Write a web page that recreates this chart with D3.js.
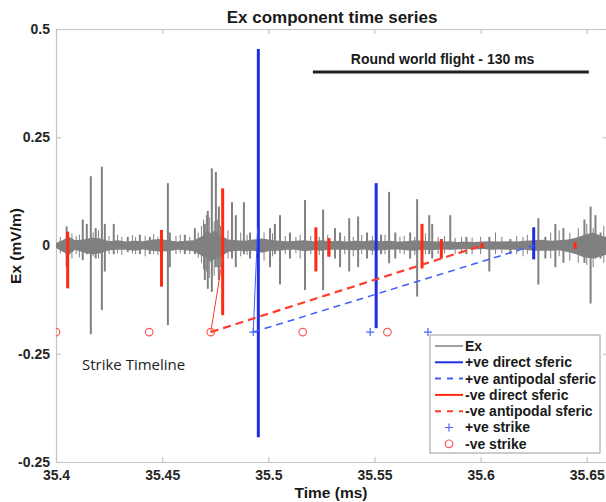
<!DOCTYPE html>
<html lang="en">
<head>
  <meta charset="UTF-8">
  <title>Ex component time series</title>
  <script src="https://d3js.org/d3.v7.min.js"></script>
  <style>
    body { margin: 0; background: #fff; }
    text { font-family: 'Liberation Sans', Arial, sans-serif; }
    .axis text { font-size: 14px; font-weight: bold; fill: #262626; }
    .axis path, .axis line { stroke: #c4c4c4; stroke-width: 1.2; }
  </style>
</head>
<body>
  <svg width="606" height="502"></svg>

  <script>
    // Ex trace: noise envelope [time, upper, lower]
    const exBand = [
      [35.400, 0.006, -0.006], [35.403, 0.012, -0.014], [35.406, 0.020, -0.022], [35.409, 0.012, -0.010],
      [35.413, 0.014, -0.016], [35.417, 0.018, -0.020], [35.421, 0.016, -0.018], [35.425, 0.010, -0.011],
      [35.429, 0.012, -0.010], [35.433, 0.009, -0.010], [35.437, 0.011, -0.012], [35.441, 0.010, -0.009],
      [35.445, 0.013, -0.012], [35.449, 0.015, -0.014], [35.453, 0.012, -0.013], [35.457, 0.009, -0.010],
      [35.461, 0.011, -0.011], [35.465, 0.012, -0.013], [35.469, 0.022, -0.025], [35.471, 0.035, -0.030],
      [35.473, 0.028, -0.038], [35.475, 0.036, -0.030], [35.477, 0.025, -0.028], [35.481, 0.014, -0.015],
      [35.485, 0.012, -0.012], [35.489, 0.011, -0.013], [35.493, 0.014, -0.012], [35.497, 0.016, -0.017],
      [35.501, 0.013, -0.012], [35.505, 0.011, -0.012], [35.509, 0.010, -0.010], [35.513, 0.011, -0.010],
      [35.517, 0.012, -0.013], [35.521, 0.010, -0.011], [35.525, 0.012, -0.012], [35.529, 0.010, -0.010],
      [35.533, 0.011, -0.010], [35.537, 0.009, -0.010], [35.541, 0.011, -0.011], [35.545, 0.010, -0.009],
      [35.549, 0.012, -0.012], [35.553, 0.010, -0.011], [35.557, 0.011, -0.010], [35.561, 0.009, -0.009],
      [35.565, 0.010, -0.011], [35.569, 0.012, -0.012], [35.573, 0.011, -0.010], [35.577, 0.010, -0.011],
      [35.581, 0.009, -0.009], [35.585, 0.010, -0.010], [35.589, 0.008, -0.009], [35.593, 0.009, -0.008],
      [35.597, 0.008, -0.009], [35.601, 0.009, -0.008], [35.605, 0.010, -0.010], [35.609, 0.009, -0.009],
      [35.613, 0.010, -0.010], [35.617, 0.009, -0.010], [35.621, 0.011, -0.010], [35.625, 0.012, -0.012],
      [35.629, 0.013, -0.012], [35.633, 0.011, -0.012], [35.637, 0.012, -0.011], [35.641, 0.014, -0.015],
      [35.645, 0.018, -0.020], [35.649, 0.025, -0.028], [35.653, 0.030, -0.030], [35.657, 0.022, -0.025],
      [35.661, 0.018, -0.018]
    ];
    // Ex spikes [time, top, bottom]
    const exSpikes = [
      [35.4050, 0.044, -0.050], [35.4126, 0.060, -0.034], [35.4145, 0.050, -0.020],
      [35.4164, 0.160, -0.205], [35.4187, 0.040, -0.030], [35.4216, 0.182, -0.149],
      [35.4230, 0.050, -0.060], [35.4272, 0.050, -0.020], [35.4338, 0.020, -0.015],
      [35.4395, 0.025, -0.020], [35.4442, 0.020, -0.020], [35.4527, 0.144, -0.184],
      [35.4536, 0.030, -0.050], [35.4607, 0.025, -0.020], [35.4654, 0.040, -0.020],
      [35.4701, 0.050, -0.080], [35.4715, 0.080, -0.100], [35.4734, 0.178, -0.107],
      [35.4753, 0.170, -0.050], [35.4767, 0.090, -0.080], [35.4829, 0.100, -0.030],
      [35.4847, 0.070, -0.050], [35.4885, 0.100, -0.020], [35.4914, 0.030, -0.030],
      [35.5008, 0.040, -0.050], [35.5031, 0.050, -0.020], [35.5055, 0.070, -0.090],
      [35.5102, 0.030, -0.030], [35.5173, 0.105, -0.103], [35.5258, 0.083, -0.103],
      [35.5314, 0.040, -0.030], [35.5338, 0.030, -0.050], [35.5381, 0.063, -0.060],
      [35.5423, 0.067, -0.050], [35.5465, 0.030, -0.030], [35.5531, 0.025, -0.020],
      [35.5569, 0.124, -0.041], [35.5598, 0.030, -0.030], [35.5668, 0.030, -0.030],
      [35.5701, 0.107, -0.118], [35.5758, 0.070, -0.020], [35.5772, 0.050, -0.030],
      [35.5857, 0.070, -0.010], [35.5933, 0.020, -0.020], [35.6041, 0.020, -0.060],
      [35.6140, 0.015, -0.020], [35.6272, 0.063, -0.090], [35.6305, 0.020, -0.030],
      [35.6352, 0.050, -0.050], [35.6390, 0.040, -0.040], [35.6489, 0.060, -0.040],
      [35.6518, 0.090, -0.134], [35.6541, 0.070, -0.030], [35.6565, 0.030, -0.030]
    ];
    // small bristles of the noise floor [time, top, bottom]
    const exBristles = [
      [35.4020, 0.020, -0.018], [35.4075, 0.028, -0.030], [35.4095, 0.022, -0.020], [35.4110, 0.025, -0.028],
      [35.4175, 0.030, -0.025], [35.4200, 0.035, -0.030], [35.4250, 0.022, -0.020], [35.4290, 0.025, -0.018],
      [35.4310, 0.020, -0.022], [35.4360, 0.024, -0.018], [35.4375, 0.020, -0.020], [35.4420, 0.022, -0.025],
      [35.4460, 0.026, -0.020], [35.4480, 0.020, -0.022], [35.4565, 0.022, -0.020], [35.4585, 0.025, -0.018],
      [35.4630, 0.020, -0.020], [35.4670, 0.030, -0.028], [35.4685, 0.045, -0.040], [35.4695, 0.060, -0.055],
      [35.4708, 0.070, -0.060], [35.4722, 0.065, -0.075], [35.4745, 0.055, -0.070], [35.4760, 0.060, -0.050],
      [35.4775, 0.045, -0.050], [35.4810, 0.035, -0.030],
      [35.4870, 0.030, -0.025], [35.4900, 0.025, -0.022], [35.4980, 0.030, -0.035], [35.5020, 0.028, -0.025],
      [35.5080, 0.022, -0.020], [35.5130, 0.020, -0.018], [35.5150, 0.025, -0.030], [35.5200, 0.022, -0.020],
      [35.5240, 0.020, -0.022], [35.5280, 0.025, -0.025], [35.5360, 0.022, -0.020], [35.5400, 0.020, -0.025],
      [35.5440, 0.024, -0.020], [35.5490, 0.022, -0.022], [35.5550, 0.025, -0.020], [35.5620, 0.020, -0.018],
      [35.5640, 0.022, -0.020], [35.5690, 0.020, -0.022], [35.5740, 0.028, -0.020], [35.5800, 0.020, -0.020],
      [35.5830, 0.022, -0.018], [35.5880, 0.018, -0.020], [35.5910, 0.020, -0.018], [35.5960, 0.018, -0.020],
      [35.6000, 0.020, -0.020], [35.6070, 0.030, -0.020], [35.6100, 0.020, -0.018], [35.6170, 0.022, -0.020],
      [35.6200, 0.020, -0.025], [35.6220, 0.025, -0.020], [35.6330, 0.030, -0.030], [35.6370, 0.035, -0.025],
      [35.6420, 0.030, -0.035], [35.6460, 0.040, -0.040], [35.6500, 0.050, -0.045], [35.6530, 0.040, -0.050],
      [35.6580, 0.045, -0.040]
    ];

    // Sferic arrivals [time, top, bottom]
    const negDirect = [
      [35.4055, 0.032, -0.099], [35.4497, 0.036, -0.095], [35.4785, 0.132, -0.161],
      [35.5224, 0.042, -0.060], [35.5286, 0.017, -0.026], [35.5724, 0.050, -0.053],
      [35.5815, 0.015, -0.030], [35.6007, 0.006, -0.006], [35.6445, 0.008, -0.008]
    ];
    const posDirect = [
      [35.4953, 0.454, -0.443], [35.5508, 0.144, -0.191], [35.6250, 0.042, -0.032]
    ];
    // Paths from strike to arrival [time, value]
    const negDirectPath = [[35.4729, -0.2], [35.4785, -0.03]];
    const posDirectPath = [[35.4929, -0.2], [35.4950, 0.04]];
    const negAntipodal = [[35.4729, -0.2], [35.6007, 0]];
    const posAntipodal = [[35.4929, -0.2], [35.6250, 0]];

    // Strike times, drawn on the strike timeline
    const negStrikes = [35.4000, 35.4439, 35.4729, 35.5162, 35.5561];
    const posStrikes = [35.4929, 35.5480, 35.5752];
    const strikeLevel = -0.2;

    const flightSpan = [35.521, 35.651];

    const xTicks = [35.4, 35.45, 35.5, 35.55, 35.6, 35.65];
    const xTickLabels = ["35.4", "35.45", "35.5", "35.55", "35.6", "35.65"];
    const yTicks = [-0.5, -0.25, 0, 0.25, 0.5];
    const yTickLabels = ["-0.25", "-0.25", "0", "0.25", "0.5"];

    const legendLabels = ["Ex", "+ve direct sferic", "+ve antipodal sferic", "-ve direct sferic",
      "-ve antipodal sferic", "+ve strike", "-ve strike"];

    const grey = "#808080", blue = "#1f2fe0", red = "#ff2a14";
    const lightBlue = "#3f5cff", lightRed = "#ff3b2a";

    const svg = d3.select("svg");
    const margin = { top: 29, left: 56 };
    const width = 552;
    const height = 433;
    const g = svg.append("g").attr("transform", "translate(" + margin.left + "," + margin.top + ")");

    const x = d3.scaleLinear().domain([35.4, 35.66]).range([0, width]);
    const y = d3.scaleLinear().domain([-0.5, 0.5]).range([height, 0]);

    // Axes box, ticks pointing inward
    g.append("g")
      .attr("class", "axis")
      .attr("transform", "translate(0," + height + ")")
      .call(d3.axisBottom(x).tickValues(xTicks).tickFormat((d, i) => xTickLabels[i])
        .tickSizeInner(-5).tickSizeOuter(0).tickPadding(8));
    g.append("g")
      .attr("class", "axis")
      .call(d3.axisTop(x).tickValues(xTicks).tickFormat("").tickSizeInner(-5).tickSizeOuter(0));
    g.append("g")
      .attr("class", "axis")
      .call(d3.axisLeft(y).tickValues(yTicks).tickFormat((d, i) => yTickLabels[i])
        .tickSizeInner(-5).tickSizeOuter(0).tickPadding(6));
    g.append("g")
      .attr("class", "axis")
      .attr("transform", "translate(" + width + ",0)")
      .call(d3.axisRight(y).tickValues(yTicks).tickFormat("").tickSizeInner(-5).tickSizeOuter(0));

    svg.append("defs").append("clipPath").attr("id", "plot")
      .append("rect").attr("width", width).attr("height", height);
    const plot = g.append("g").attr("clip-path", "url(#plot)");

    const vline = (sel, data, colour, w) => sel.selectAll(null)
      .data(data)
      .enter().append("line")
      .attr("x1", d => x(d[0])).attr("x2", d => x(d[0]))
      .attr("y1", d => y(d[1])).attr("y2", d => y(d[2]))
      .attr("stroke", colour)
      .attr("stroke-width", w);

    // Ex trace
    plot.append("path")
      .datum(exBand)
      .attr("fill", grey)
      .attr("d", d3.area().x(d => x(d[0])).y0(d => y(d[2])).y1(d => y(d[1])));
    vline(plot, exBristles, grey, 1);
    vline(plot, exSpikes, grey, 2);

    const line = d3.line().x(d => x(d[0])).y(d => y(d[1]));

    // Direct sferics
    vline(plot, negDirect, red, 3);
    vline(plot, posDirect, blue, 3);

    plot.append("path").datum(negDirectPath).attr("d", line)
      .attr("fill", "none").attr("stroke", lightRed).attr("stroke-width", 1);
    plot.append("path").datum(posDirectPath).attr("d", line)
      .attr("fill", "none").attr("stroke", lightBlue).attr("stroke-width", 1);

    // Antipodal sferics
    plot.append("path").datum(negAntipodal).attr("d", line)
      .attr("fill", "none").attr("stroke", lightRed).attr("stroke-width", 2.2)
      .attr("stroke-dasharray", "8,5");
    plot.append("path").datum(posAntipodal).attr("d", line)
      .attr("fill", "none").attr("stroke", lightBlue).attr("stroke-width", 1.5)
      .attr("stroke-dasharray", "7,5");

    // Strikes
    plot.selectAll(".negStrike")
      .data(negStrikes)
      .enter().append("circle")
      .attr("cx", d => x(d)).attr("cy", y(strikeLevel)).attr("r", 3.8)
      .attr("fill", "none").attr("stroke", "#ff5a5a").attr("stroke-width", 1.2);
    plot.selectAll(".posStrike")
      .data(posStrikes)
      .enter().append("path")
      .attr("d", d => "M" + (x(d) - 4) + "," + y(strikeLevel) + "h8M" + x(d) + "," + (y(strikeLevel) - 4) + "v8")
      .attr("stroke", "#4a66ff").attr("stroke-width", 1.2);

    // Round world flight bar
    g.append("line")
      .attr("x1", x(flightSpan[0])).attr("x2", x(flightSpan[1]))
      .attr("y1", 43).attr("y2", 43)
      .attr("stroke", "#222").attr("stroke-width", 3);
    g.append("text")
      .attr("x", x(flightSpan[0] + (flightSpan[1] - flightSpan[0]) * 0.47))
      .attr("y", 35)
      .attr("text-anchor", "middle")
      .style("font-size", "14px").style("font-weight", "bold").style("fill", "#1a1a1a")
      .text("Round world flight - 130 ms");

    g.append("text")
      .attr("x", 26).attr("y", 341)
      .style("font-size", "15px").style("fill", "#222")
      .style("font-family", "'Open Sans', sans-serif")
      .text("Strike Timeline");

    // Titles
    svg.append("text")
      .attr("x", 332).attr("y", 23)
      .attr("text-anchor", "middle")
      .style("font-size", "17px").style("font-weight", "bold").style("fill", "#1a1a1a")
      .text("Ex component time series");
    svg.append("text")
      .attr("x", 331).attr("y", 498)
      .attr("text-anchor", "middle")
      .style("font-size", "15.5px").style("font-weight", "bold").style("fill", "#1a1a1a")
      .text("Time (ms)");
    svg.append("text")
      .attr("transform", "translate(21,246) rotate(-90)")
      .attr("text-anchor", "middle")
      .style("font-size", "15.5px").style("font-weight", "bold").style("fill", "#1a1a1a")
      .text("Ex (mV/m)");

    // Legend
    const lg = svg.append("g").attr("transform", "translate(430,335)");
    lg.append("rect").attr("width", 170).attr("height", 118)
      .attr("fill", "#fff").attr("stroke", "#9a9a9a").attr("stroke-width", 1);
    const styles = [
      { stroke: grey, dash: null },
      { stroke: blue, dash: null },
      { stroke: lightBlue, dash: "6,6" },
      { stroke: red, dash: null },
      { stroke: lightRed, dash: "6,6" },
      { marker: "plus" },
      { marker: "circle" }
    ];
    const rows = lg.selectAll(".row")
      .data(legendLabels)
      .enter().append("g")
      .attr("transform", (d, i) => "translate(0," + (11 + i * 16.3) + ")");
    rows.each(function (d, i) {
      const r = d3.select(this);
      const s = styles[i];
      if (s.marker === "plus") {
        r.append("path").attr("d", "M15,0h8M19,-4v8").attr("stroke", "#4a66ff").attr("stroke-width", 1.2);
      } else if (s.marker === "circle") {
        r.append("circle").attr("cx", 19).attr("cy", 0).attr("r", 3.8)
          .attr("fill", "none").attr("stroke", "#ff5a5a").attr("stroke-width", 1.2);
      } else {
        r.append("line").attr("x1", 5).attr("x2", 33).attr("y1", 0).attr("y2", 0)
          .attr("stroke", s.stroke).attr("stroke-width", i === 0 ? 1.5 : 2)
          .attr("stroke-dasharray", s.dash);
      }
    });
    rows.append("text")
      .attr("x", 35).attr("y", 0).attr("dy", "0.35em")
      .style("font-size", "14px").style("font-weight", "bold").style("fill", "#1a1a1a")
      .text(d => d);
  </script>
</body>
</html>
